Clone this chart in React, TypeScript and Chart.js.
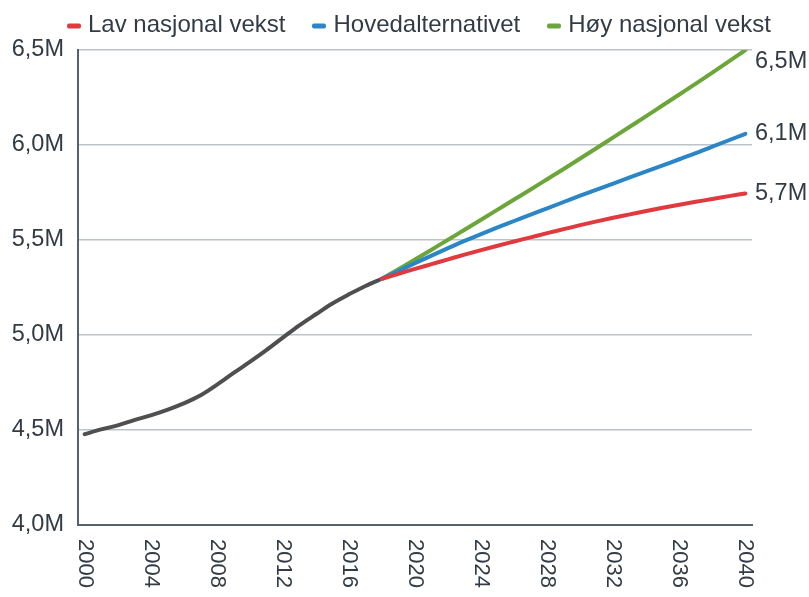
import React, { useEffect, useRef } from "react";
import { Chart, registerables } from "chart.js";

Chart.register(...registerables);

const seriesNames = ["Lav nasjonal vekst", "Hovedalternativet", "Høy nasjonal vekst"];
const seriesColors = ["#e0393e", "#2a86c6", "#6ca63a"];
const historyColor = "#4f4f4f";

const histYears = [2000, 2001, 2002, 2003, 2004, 2005, 2006, 2007, 2008, 2009, 2010, 2011, 2012, 2013, 2014, 2015, 2016, 2017, 2018];
const histPop = [4.478, 4.503, 4.524, 4.552, 4.577, 4.606, 4.640, 4.681, 4.737, 4.799, 4.858, 4.920, 4.986, 5.051, 5.109, 5.166, 5.214, 5.258, 5.296];

const projYears = [2018, 2019, 2020, 2021, 2022, 2023, 2024, 2025, 2026, 2027, 2028, 2029, 2030, 2031, 2032, 2033, 2034, 2035, 2036, 2037, 2038, 2039, 2040];
const lowPop = [5.296, 5.322, 5.348, 5.373, 5.398, 5.423, 5.447, 5.470, 5.492, 5.514, 5.536, 5.557, 5.578, 5.598, 5.617, 5.635, 5.653, 5.670, 5.686, 5.701, 5.716, 5.731, 5.745];
const mainPop = [5.296, 5.337, 5.378, 5.418, 5.457, 5.495, 5.531, 5.566, 5.600, 5.634, 5.667, 5.700, 5.733, 5.765, 5.797, 5.829, 5.861, 5.893, 5.925, 5.957, 5.991, 6.025, 6.059];
const highPop = [5.296, 5.346, 5.397, 5.449, 5.501, 5.554, 5.607, 5.660, 5.713, 5.766, 5.820, 5.874, 5.929, 5.984, 6.040, 6.096, 6.152, 6.209, 6.266, 6.323, 6.381, 6.440, 6.500];

const xTickYears = [2000, 2004, 2008, 2012, 2016, 2020, 2024, 2028, 2032, 2036, 2040];
const yTickValues = [4.0, 4.5, 5.0, 5.5, 6.0, 6.5];

const FONT = '"Liberation Sans", Arial, Helvetica, sans-serif';
const TEXT = "#333c44";

const fmt = (v: number) => v.toFixed(1).replace(".", ",") + "M";

export default function App() {
  const ref = useRef<HTMLCanvasElement | null>(null);

  useEffect(() => {
    document.body.style.margin = "0";
    const canvas = ref.current;
    if (!canvas) return;

    const projSets = [lowPop, mainPop, highPop];

    const endLabels = {
      id: "endLabels",
      afterDatasetsDraw(chart: any) {
        const ctx = chart.ctx;
        const area = chart.chartArea;
        ctx.save();
        ctx.font = `23.5px ${FONT}`;
        ctx.fillStyle = TEXT;
        ctx.textAlign = "left";
        ctx.textBaseline = "middle";
        for (let i = 0; i < 3; i++) {
          const meta = chart.getDatasetMeta(i);
          const pts = meta.data;
          const last = pts[pts.length - 1];
          const vals = projSets[i];
          const y = Math.max(last.y, area.top + 12);
          ctx.fillText(fmt(vals[vals.length - 1]), area.right + 3, y);
        }
        ctx.restore();
      },
    };

    const xLabels = {
      id: "xLabels",
      afterDraw(chart: any) {
        const ctx = chart.ctx;
        const xs = chart.scales.x;
        const area = chart.chartArea;
        ctx.save();
        ctx.font = `22px ${FONT}`;
        ctx.fillStyle = TEXT;
        ctx.textAlign = "left";
        ctx.textBaseline = "middle";
        for (const yr of xTickYears) {
          const px = xs.getPixelForValue(yr);
          ctx.save();
          ctx.translate(px, area.bottom + 14);
          ctx.rotate(Math.PI / 2);
          ctx.fillText(String(yr), 0, 0);
          ctx.restore();
        }
        ctx.restore();
      },
    };

    const mk = (xsArr: number[], ysArr: number[]) => xsArr.map((x, i) => ({ x, y: ysArr[i] }));

    const common = {
      borderWidth: 4,
      pointRadius: 0,
      pointHoverRadius: 0,
      cubicInterpolationMode: "monotone",
      borderCapStyle: "round",
      borderJoinStyle: "round",
      fill: false,
    };

    const chart = new Chart(canvas, {
      type: "line",
      data: {
        datasets: [
          { label: seriesNames[0], data: mk(projYears, lowPop), borderColor: seriesColors[0], backgroundColor: seriesColors[0], ...common },
          { label: seriesNames[1], data: mk(projYears, mainPop), borderColor: seriesColors[1], backgroundColor: seriesColors[1], ...common },
          { label: seriesNames[2], data: mk(projYears, highPop), borderColor: seriesColors[2], backgroundColor: seriesColors[2], ...common },
          { label: "Historikk", data: mk(histYears, histPop), borderColor: historyColor, backgroundColor: historyColor, ...common },
        ],
      } as any,
      options: {
        animation: false,
        responsive: true,
        maintainAspectRatio: false,
        layout: { padding: { top: 50, right: 57, bottom: 64, left: 0 } },
        plugins: {
          legend: { display: false },
          tooltip: { enabled: false },
        },
        scales: {
          x: {
            type: "linear",
            min: 1999.6,
            max: 2040.4,
            grid: { display: false },
            border: { display: true, color: "#56636d", width: 2 },
            ticks: { display: false },
          },
          y: {
            type: "linear",
            min: 4,
            max: 6.5,
            afterBuildTicks: (scale: any) => {
              scale.ticks = yTickValues.map((v) => ({ value: v }));
            },
            afterFit: (scale: any) => {
              scale.width = 78;
            },
            grid: { color: "#bcc3c9", lineWidth: 1.5, drawTicks: false },
            border: { display: true, color: "#56636d", width: 2 },
            ticks: {
              padding: 14,
              color: TEXT,
              font: { family: FONT, size: 23.5 },
              callback: (v: any) => fmt(Number(v)),
            },
          },
        },
      } as any,
      plugins: [endLabels, xLabels],
    });

    return () => chart.destroy();
  }, []);

  return (
    <div style={{ position: "relative", width: 809, height: 597, background: "#fff" }}>
      <canvas ref={ref} />
      <div
        style={{
          position: "absolute",
          top: 0,
          left: 67,
          height: 48,
          display: "flex",
          alignItems: "center",
          fontFamily: FONT,
          fontSize: 24,
          color: TEXT,
          whiteSpace: "nowrap",
        }}
      >
        {seriesNames.map((name, i) => (
          <div key={name} style={{ display: "flex", alignItems: "center", marginRight: i < seriesNames.length - 1 ? 27 : 0 }}>
            <span
              style={{
                display: "inline-block",
                width: 14,
                height: 5,
                borderRadius: 2,
                background: seriesColors[i],
                marginRight: 7,
                transform: "translateY(1.5px)",
              }}
            />
            <span>{name}</span>
          </div>
        ))}
      </div>
    </div>
  );
}
